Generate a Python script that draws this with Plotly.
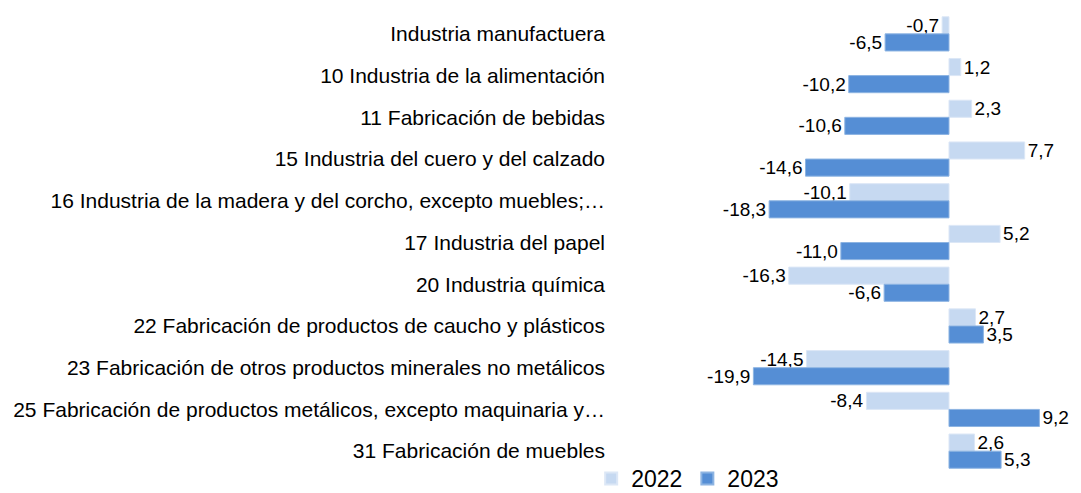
import plotly.graph_objects as go

categories = [
    "Industria manufactuera",
    "10 Industria de la alimentación",
    "11 Fabricación de bebidas",
    "15 Industria del cuero y del calzado",
    "16 Industria de la madera y del corcho, excepto muebles;…",
    "17 Industria del papel",
    "20 Industria química",
    "22 Fabricación de productos de caucho y plásticos",
    "23 Fabricación de otros productos minerales no metálicos",
    "25 Fabricación de productos metálicos, excepto maquinaria y…",
    "31 Fabricación de muebles",
]
values_2022 = [-0.7, 1.2, 2.3, 7.7, -10.1, 5.2, -16.3, 2.7, -14.5, -8.4, 2.6]
values_2023 = [-6.5, -10.2, -10.6, -14.6, -18.3, -11.0, -6.6, 3.5, -19.9, 9.2, 5.3]

FONT = "Liberation Sans, Arial, sans-serif"

fig = go.Figure()
fig.add_trace(go.Bar(
    name="2022", y=categories, x=values_2022, orientation="h",
    marker=dict(color="#C6D9F1", line=dict(color="#DCE7F6", width=1)),
    texttemplate="%{x:.1f}", textposition="outside", cliponaxis=False,
    constraintext="none",
    textfont=dict(family=FONT, size=19, color="#000000"),
))
fig.add_trace(go.Bar(
    name="2023", y=categories, x=values_2023, orientation="h",
    marker=dict(color="#558ED5", line=dict(color="#8DB4E2", width=1)),
    texttemplate="%{x:.1f}", textposition="outside", cliponaxis=False,
    constraintext="none",
    textfont=dict(family=FONT, size=19, color="#000000"),
))

# page body has an 8px default margin, so the figure is sized to fit the window
fig.update_layout(
    width=1073, height=485,
    barmode="group", bargap=0.18, bargroupgap=0,
    separators=",.",
    paper_bgcolor="white", plot_bgcolor="white",
    margin=dict(l=607, r=6, t=5, b=21, autoexpand=False),
    font=dict(family=FONT, size=21, color="#000000"),
    xaxis=dict(range=[-33.98, 12.82], visible=False, showgrid=False, zeroline=False,
               automargin=False),
    yaxis=dict(autorange="reversed", showgrid=False, zeroline=False, showline=False,
               ticks="", ticklabelstandoff=9, automargin=False,
               tickfont=dict(family=FONT, size=21, color="#000000")),
    legend=dict(orientation="h", x=0.158, xanchor="center",
                yref="container", y=0.03, yanchor="middle",
                bgcolor="rgba(0,0,0,0)",
                font=dict(family=FONT, size=23, color="#000000"),
                itemsizing="constant", traceorder="normal"),
    showlegend=True,
)

fig.write_html("out.html")
